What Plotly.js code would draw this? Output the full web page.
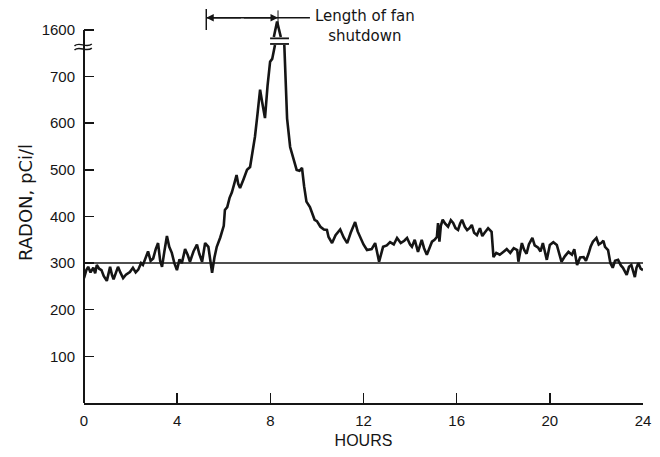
<!DOCTYPE html>
<html>
<head>
<meta charset="utf-8">
<script src="https://cdn.plot.ly/plotly-3.0.1.min.js"></script>
<style>html,body{margin:0;padding:0;background:#fff;}#chart{width:660px;height:457px;}</style>
</head>
<body>
<div id="chart"></div>
<script>
// Radon concentration (pCi/l) vs. time (hours). Values above the axis break are in the
// compressed display scale (800 on the axis is labelled 1600).
const hours = [
  0.00,0.10,0.18,0.28,0.40,0.48,0.55,0.65,0.75,0.85,0.98,1.05,1.12,1.20,1.27,1.36,1.46,1.56,1.68,1.80,
  1.97,2.10,2.22,2.33,2.45,2.53,2.65,2.75,2.86,2.97,3.08,3.18,3.27,3.35,3.45,3.56,3.66,3.77,3.88,3.99,
  4.10,4.20,4.34,4.45,4.55,4.70,4.85,4.95,5.07,5.20,5.34,5.42,5.50,5.60,5.70,5.85,6.00,6.05,6.15,6.25,
  6.35,6.45,6.55,6.62,6.70,6.85,7.00,7.13,7.25,7.34,7.45,7.56,7.65,7.77,7.88,7.99,8.08,8.20,
  8.20,8.15,8.29,8.45,8.45,
  8.60,8.72,8.85,9.00,9.13,9.25,9.36,9.45,9.55,9.70,9.90,10.00,10.15,10.30,10.43,10.50,10.65,10.80,
  11.00,11.15,11.30,11.45,11.64,11.75,11.85,12.00,12.15,12.35,12.50,12.67,12.84,13.00,13.14,13.30,13.44,
  13.60,13.75,13.87,14.00,14.08,14.20,14.34,14.50,14.60,14.72,14.85,14.94,15.05,15.15,15.20,15.26,15.32,
  15.40,15.50,15.63,15.75,15.85,15.95,16.06,16.15,16.23,16.35,16.45,16.55,16.65,16.75,16.87,17.00,17.10,
  17.20,17.35,17.50,17.58,17.70,17.85,18.00,18.15,18.30,18.45,18.60,18.65,18.80,18.90,19.00,19.10,19.25,
  19.35,19.50,19.60,19.70,19.87,20.00,20.15,20.30,20.40,20.50,20.65,20.80,20.95,21.05,21.17,21.30,21.45,
  21.55,21.66,21.75,21.85,22.00,22.10,22.20,22.30,22.37,22.50,22.60,22.70,22.80,22.93,23.05,23.14,23.30,
  23.40,23.50,23.58,23.65,23.72,23.80,23.90,24.00
];
const radon = [
  268,285,292,280,290,278,296,288,285,272,262,280,292,275,265,278,292,280,268,275,
  281,290,280,286,300,296,312,325,305,310,330,343,305,292,325,358,335,322,300,285,
  308,300,330,318,303,325,340,320,303,343,335,300,279,312,335,355,380,414,420,440,
  452,470,489,470,461,480,500,506,540,571,620,672,645,611,680,732,738,768,
  null,785,818,785,null,
  768,610,549,520,500,498,504,465,432,420,393,390,378,372,371,356,343,360,
  372,355,343,365,388,368,356,340,328,330,343,303,335,338,345,340,354,
  343,348,354,340,335,350,324,350,332,318,335,346,350,356,386,346,380,
  393,385,378,392,386,375,371,385,393,378,371,375,382,365,360,375,358,
  365,375,367,313,322,318,324,330,322,332,328,303,343,328,320,340,354,
  338,333,325,343,307,339,345,339,320,303,315,324,318,330,296,312,313,
  305,320,335,346,354,340,343,348,335,328,300,290,305,307,295,290,275,
  292,296,282,270,290,300,288,285
];
const referenceLevel = 300;
const yTickVals = [100,200,300,400,500,600,700,800];
const yTickText = ['100','200','300','400','500','600','700','1600'];
const xTickVals = [0,4,8,12,16,20,24];
const xTickText = ['0','4','8','12','16','20','24'];
const shutdownStart = 5.25, shutdownEnd = 8.33;
const shutdownLabel = 'Length of fan<br>shutdown';

const ink = '#151515';
const tickFont = {family: 'Liberation Sans, Arial, sans-serif', size: 15, color: ink};

const traces = [{
  x: hours, y: radon, type: 'scatter', mode: 'lines', connectgaps: false,
  line: {color: ink, width: 2.6}, hoverinfo: 'skip'
}];

const layout = {
  width: 660, height: 457,
  margin: {l: 84, r: 17, t: 2, b: 54},
  paper_bgcolor: '#fff', plot_bgcolor: '#fff',
  showlegend: false,
  xaxis: {
    range: [0, 24], tickvals: xTickVals, ticktext: xTickText,
    ticks: 'inside', ticklen: 10, tickwidth: 1.5, tickcolor: ink,
    showline: true, linecolor: ink, linewidth: 2, mirror: false,
    showgrid: false, zeroline: false, tickfont: tickFont, ticklabelstandoff: 3,
    title: {text: 'HOURS', font: {family: 'Liberation Sans, Arial, sans-serif', size: 16, color: ink}, standoff: 7}
  },
  yaxis: {
    range: [0, 860], tickvals: yTickVals, ticktext: yTickText,
    ticks: 'inside', ticklen: 10, tickwidth: 1.5, tickcolor: ink,
    showline: false, showgrid: false, zeroline: false, tickfont: tickFont, ticklabelstandoff: 8,
    title: {text: 'RADON, pCi/l', font: {family: 'DejaVu Sans, sans-serif', size: 18, color: ink}, standoff: 4}
  },
  shapes: [
    // y axis line up to the break-scale top
    {type: 'line', xref: 'paper', yref: 'y', x0: 0, x1: 0, y0: 0, y1: 800, line: {color: ink, width: 2}},
    // reference level
    {type: 'line', xref: 'x', yref: 'y', x0: 0, x1: 24, y0: referenceLevel, y1: referenceLevel, line: {color: ink, width: 1.5}},
    // axis break marks
    {type: 'path', xref: 'paper', yref: 'y', path: 'M -0.017,766 C -0.008,776 0.004,760 0.014,770', line: {color: ink, width: 1.5}},
    {type: 'path', xref: 'paper', yref: 'y', path: 'M -0.017,757 C -0.008,767 0.004,751 0.014,761', line: {color: ink, width: 1.5}},
    // peak break marks
    {type: 'line', xref: 'x', yref: 'y', x0: 7.99, x1: 8.8, y0: 782, y1: 782, line: {color: ink, width: 1.8}},
    {type: 'line', xref: 'x', yref: 'y', x0: 7.99, x1: 8.8, y0: 770, y1: 770, line: {color: ink, width: 1.8}},
    // shutdown dimension line
    {type: 'line', xref: 'x', yref: 'y', x0: shutdownStart, x1: 9.7, y0: 826, y1: 826, line: {color: ink, width: 1.5}},
    {type: 'line', xref: 'x', yref: 'y', x0: shutdownStart, x1: shutdownStart, y0: 800, y1: 845, line: {color: ink, width: 1.5}},
    {type: 'line', xref: 'x', yref: 'y', x0: shutdownEnd, x1: shutdownEnd, y0: 805, y1: 842, line: {color: ink, width: 1}}
  ],
  annotations: [
    {x: shutdownStart, y: 826, ax: 6.8, ay: 826, axref: 'x', ayref: 'y', xref: 'x', yref: 'y', text: '',
     showarrow: true, arrowhead: 2, arrowsize: 1, arrowwidth: 1.5, arrowcolor: ink},
    {x: shutdownEnd, y: 826, ax: 6.8, ay: 826, axref: 'x', ayref: 'y', xref: 'x', yref: 'y', text: '',
     showarrow: true, arrowhead: 2, arrowsize: 1, arrowwidth: 1.5, arrowcolor: ink},
    {x: 9.85, y: 826, xref: 'x', yref: 'y', xanchor: 'left', yanchor: 'middle', yshift: -8, showarrow: false,
     text: shutdownLabel, align: 'center',
     font: {family: 'DejaVu Sans, sans-serif', size: 15, color: ink}}
  ]
};

Plotly.newPlot('chart', traces, layout, {staticPlot: true, displayModeBar: false});
</script>
</body>
</html>
